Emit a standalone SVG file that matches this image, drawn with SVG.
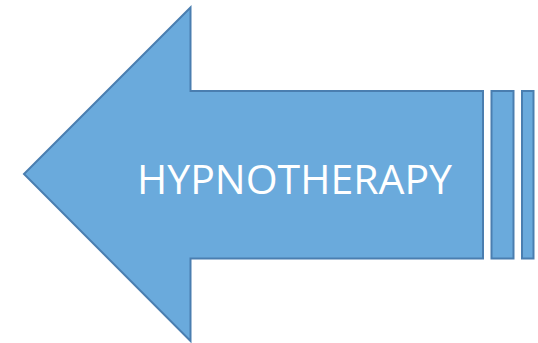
<svg xmlns="http://www.w3.org/2000/svg" width="538" height="343" viewBox="0 0 538 343">
<style>
.shape{fill:#6aaadc;stroke:#4a7eb0;stroke-width:2;stroke-linejoin:miter}
.lbl{fill:#ffffff;font-family:"Open Sans","Liberation Sans",sans-serif;font-size:41px}
</style>
<rect width="538" height="343" fill="#ffffff"/>
<g id="arrow">
<polygon class="shape" points="24,174 190.5,7.5 190.5,91 483,91 483,258.5 190.5,258.5 190.5,341 "/>
</g>
<g id="stripe1"><rect class="shape" x="491.5" y="91" width="22" height="167.5"/></g>
<g id="stripe2"><rect class="shape" x="522" y="91" width="11.5" height="167.5"/></g>
<g id="label"><text class="lbl" x="137" y="194" textLength="315" lengthAdjust="spacingAndGlyphs">HYPNOTHERAPY</text></g>
</svg>
